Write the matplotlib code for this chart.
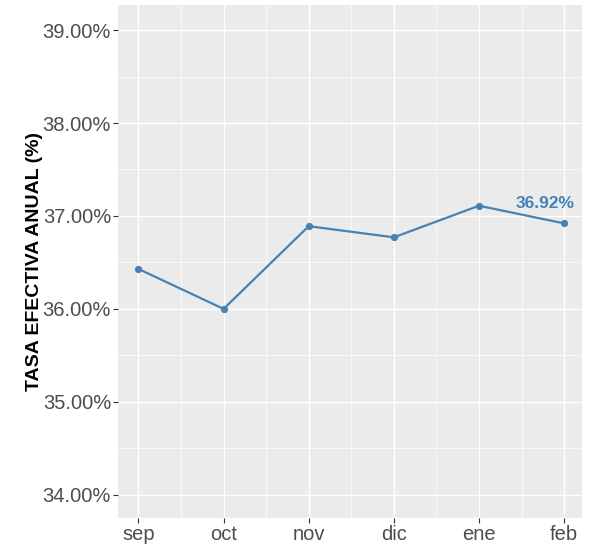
import matplotlib
matplotlib.use("Agg")
import matplotlib.pyplot as plt
from matplotlib.ticker import FuncFormatter, MultipleLocator

# data
months = ["sep", "oct", "nov", "dic", "ene", "feb"]
tasa = [36.43, 36.00, 36.89, 36.77, 37.11, 36.92]
y_ticks = [34, 35, 36, 37, 38, 39]

line_color = "#4682B4"
text_color = "#4D4D4D"

plt.rcParams["font.family"] = ["Liberation Sans", "DejaVu Sans"]

fig = plt.figure(figsize=(5.97, 5.47), dpi=100)
ax = fig.add_axes([118 / 597, 29 / 547, 464 / 597, 513 / 547])

x = list(range(len(months)))
ax.plot(x, tasa, color=line_color, linewidth=1.6, marker="o", markersize=4.2, zorder=3)

# label on last point
ax.text(x[-1] + 0.12, tasa[-1] + 0.13, f"{tasa[-1]:.2f}%", color=line_color,
        fontsize=12.5, fontweight="bold", ha="right", va="bottom", zorder=4)

ax.set_facecolor("#EBEBEB")
for s in ax.spines.values():
    s.set_visible(False)

ax.set_xlim(-0.24, 5.21)
ax.set_ylim(33.75, 39.27)
ax.set_xticks(x)
ax.set_xticklabels(months)
ax.set_yticks(y_ticks)
ax.yaxis.set_major_formatter(FuncFormatter(lambda v, p: f"{v:.2f}%"))
ax.yaxis.set_minor_locator(MultipleLocator(0.5))
ax.set_xticks([i + 0.5 for i in x[:-1]], minor=True)

ax.grid(which="major", color="white", linewidth=1.0)
ax.grid(which="minor", color="white", linewidth=0.5)
ax.set_axisbelow(True)

ax.tick_params(axis="both", which="major", labelsize=14.5, labelcolor=text_color,
               color="#333333", length=3.5, width=0.8, pad=1.5)
ax.tick_params(axis="both", which="minor", length=0)

ax.set_ylabel("TASA EFECTIVA ANUAL (%)", fontsize=14, fontweight="bold",
              color="black", labelpad=0)

fig.savefig("out.png", dpi=100)
